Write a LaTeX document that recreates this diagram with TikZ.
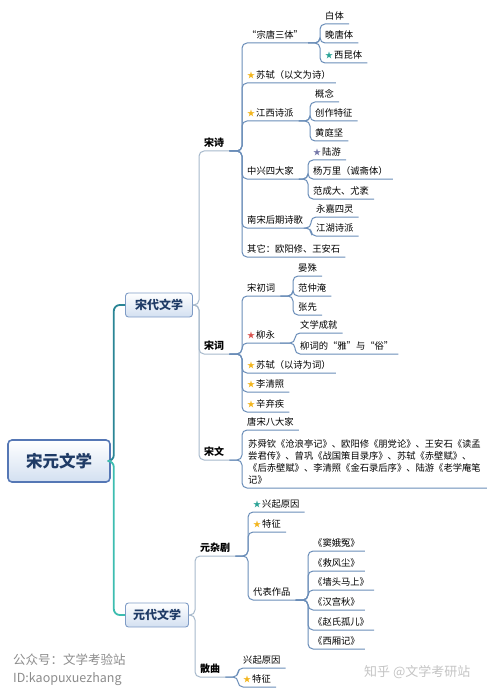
\documentclass[tikz,border=0pt]{standalone}
\usepackage{fontspec}
\setmainfont{Noto Sans CJK SC}
\usepackage{xcolor}
\usepackage{tikz}
\usetikzlibrary{positioning}
\definecolor{mmnavy}{HTML}{1F3B66}
\definecolor{mmedge}{HTML}{7F9CC6}
\definecolor{mmfill}{HTML}{D3E0F1}
\definecolor{mmroot}{HTML}{5577B5}
\definecolor{mmtealA}{HTML}{2A8595}
\definecolor{mmtealB}{HTML}{3DBDB0}
\definecolor{mmbus}{HTML}{A6B8CB}
\definecolor{mmlink}{HTML}{6A8DB8}
\definecolor{stargold}{HTML}{F2B51D}
\definecolor{starteal}{HTML}{2BA396}
\definecolor{starred}{HTML}{D9534F}
\definecolor{starpurple}{HTML}{7477A8}
\definecolor{markgray}{HTML}{8C8C8C}
\definecolor{zhihugray}{HTML}{C4C4C4}
\newcommand{\mstar}[1]{{\fontsize{8}{8}\selectfont\textcolor{#1}{★}}\hspace{1pt}}

\begin{document}
\begin{tikzpicture}[x=1pt, y=-1pt,
    cat/.style={draw=mmedge, line width=0.9pt, rounded corners=3pt, top color=white, bottom color=mmfill,
                minimum width=67pt, minimum height=24pt, inner sep=0pt,
                font=\bfseries\fontsize{12}{14}\selectfont, text=mmnavy},
    root/.style={cat, draw=mmroot, line width=1.6pt, rounded corners=4pt,
                 minimum width=102pt, minimum height=42pt, font=\bfseries\fontsize{16.5}{18}\selectfont},
    head/.style={anchor=south west, inner xsep=5pt, inner ysep=2.5pt, text height=7.5pt, text depth=2pt,
                 font=\bfseries\fontsize{10}{12}\selectfont},
    topic/.style={anchor=south west, inner xsep=5pt, inner ysep=2.5pt, text height=7pt, text depth=2pt,
                  font=\fontsize{9.3}{12}\selectfont, align=left},
    trunk/.style={line width=1.8pt, rounded corners=6pt},
    link2/.style={draw=mmbus, line width=1pt, rounded corners=5pt},
    link/.style={draw=mmlink, line width=1pt, rounded corners=5pt},
    wmark/.style={anchor=west, inner sep=0pt, font=\fontsize{12.5}{15}\selectfont, text=markgray},
]
\useasboundingbox (0,0) rectangle (500,695);

% root and the two periods
\node[root] (root) at (59,461) {宋元文学};
\node[cat] (sd) at (159,305) {宋代文学};
\node[cat, minimum width=63pt] (yd) at (157,615) {元代文学};
\draw[trunk, mmtealA] (root.east) -- ++(3,0) |- (sd.west);
\draw[trunk, mmtealB] (root.east) -- ++(3,0) |- (yd.west);

% Song: poetry, ci, prose
\node[head] (shi) at (199,151) {宋诗};
\node[head] (ci) at (199,354) {宋词};
\node[head] (wen) at (199,460) {宋文};
\foreach \n in {shi,ci,wen}
  \draw[link2] (sd.east) -| (\n.south west) -- (\n.south east);

% 宋诗
\node[topic] (zt) at (242,43) {“宗唐三体”};
\node[topic] (ss1) at (242,83) {\mstar{stargold}苏轼（以文为诗）};
\node[topic] (jx) at (242,121) {\mstar{stargold}江西诗派};
\node[topic] (zx) at (242,179) {中兴四大家};
\node[topic] (nh) at (242,228) {南宋后期诗歌};
\node[topic] (qt) at (242,257) {其它：欧阳修、王安石};
\foreach \n in {zt,ss1,jx,zx,nh,qt}
  \draw[link] (shi.south east) -| (\n.south west) -- (\n.south east);

\foreach \w/\y [count=\i] in {白体/24, 晚唐体/43, \mstar{starteal}西昆体/63} {
  \node[topic] (zt\i) at (320,\y) {\w};
  \draw[link] (zt.south east) -| (zt\i.south west) -- (zt\i.south east);
}
\foreach \w/\y [count=\i] in {概念/102, 创作特征/121, 黄庭坚/141} {
  \node[topic] (jx\i) at (310,\y) {\w};
  \draw[link] (jx.south east) -| (jx\i.south west) -- (jx\i.south east);
}
\foreach \w/\y [count=\i] in {\mstar{starpurple}陆游/160, 杨万里（诚斋体）/179, 范成大、尤袤/199} {
  \node[topic] (zx\i) at (308,\y) {\w};
  \draw[link] (zx.south east) -| (zx\i.south west) -- (zx\i.south east);
}
\foreach \w/\y [count=\i] in {永嘉四灵/217, 江湖诗派/236} {
  \node[topic] (nh\i) at (311,\y) {\w};
  \draw[link] (nh.south east) -| (nh\i.south west) -- (nh\i.south east);
}

% 宋词
\node[topic] (cc) at (242,296) {宋初词};
\node[topic] (ly) at (242,343) {\mstar{starred}柳永};
\node[topic] (ss2) at (242,373) {\mstar{stargold}苏轼（以诗为词）};
\node[topic] (lq) at (242,392) {\mstar{stargold}李清照};
\node[topic] (xj) at (242,412) {\mstar{stargold}辛弃疾};
\foreach \n in {cc,ly,ss2,lq,xj}
  \draw[link] (ci.south east) -| (\n.south west) -- (\n.south east);

\foreach \w/\y [count=\i] in {晏殊/276, 范仲淹/296, 张先/315} {
  \node[topic] (cc\i) at (293,\y) {\w};
  \draw[link] (cc.south east) -| (cc\i.south west) -- (cc\i.south east);
}
\foreach \w/\y [count=\i] in {文学成就/333, 柳词的“雅”与“俗”/354} {
  \node[topic] (ly\i) at (295,\y) {\w};
  \draw[link] (ly.south east) -| (ly\i.south west) -- (ly\i.south east);
}

% 宋文
\node[topic] (bd) at (242,430) {唐宋八大家};
\node[topic, inner xsep=6pt] (zp) at (242,488) {苏舜钦《沧浪亭记》、欧阳修《朋党论》、王安石《读孟\\
  尝君传》、曾巩《战国策目录序》、苏轼《赤壁赋》、\\
  《后赤壁赋》、李清照《金石录后序》、陆游《老学庵笔\\
  记》};
\foreach \n in {bd,zp}
  \draw[link] (wen.south east) -| (\n.south west) -- (\n.south east);

% Yuan: zaju and sanqu
\node[head] (zj) at (195,556) {元杂剧};
\node[head] (sq) at (195,677) {散曲};
\foreach \n in {zj,sq}
  \draw[link2] (yd.east) -| (\n.south west) -- (\n.south east);

\node[topic] (zq) at (248,512) {\mstar{starteal}兴起原因};
\node[topic] (zt2) at (248,532) {\mstar{stargold}特征};
\node[topic] (db) at (248,600) {代表作品};
\foreach \n in {zq,zt2,db}
  \draw[link] (zj.south east) -| (\n.south west) -- (\n.south east);

\foreach \w/\y [count=\i] in {《窦娥冤》/551, 《救风尘》/571, 《墙头马上》/590,
                              《汉宫秋》/610, 《赵氏孤儿》/630, 《西厢记》/649} {
  \node[topic] (db\i) at (308,\y) {\w};
  \draw[link] (db.south east) -| (db\i.south west) -- (db\i.south east);
}

\node[topic] (sq1) at (238,668) {兴起原因};
\node[topic] (sq2) at (238,687) {\mstar{stargold}特征};
\foreach \n in {sq1,sq2}
  \draw[link] (sq.south east) -| (\n.south west) -- (\n.south east);

% watermarks
\node[wmark] (wm1) at (13,660) {公众号：文学考验站};
\node[wmark] (wm2) at (13,679) {ID:kaopuxuezhang};
\node[wmark, text=zhihugray, font=\fontsize{13}{15}\selectfont] (wm3) at (364,672) {知乎 @文学考研站};
\end{tikzpicture}
\end{document}
